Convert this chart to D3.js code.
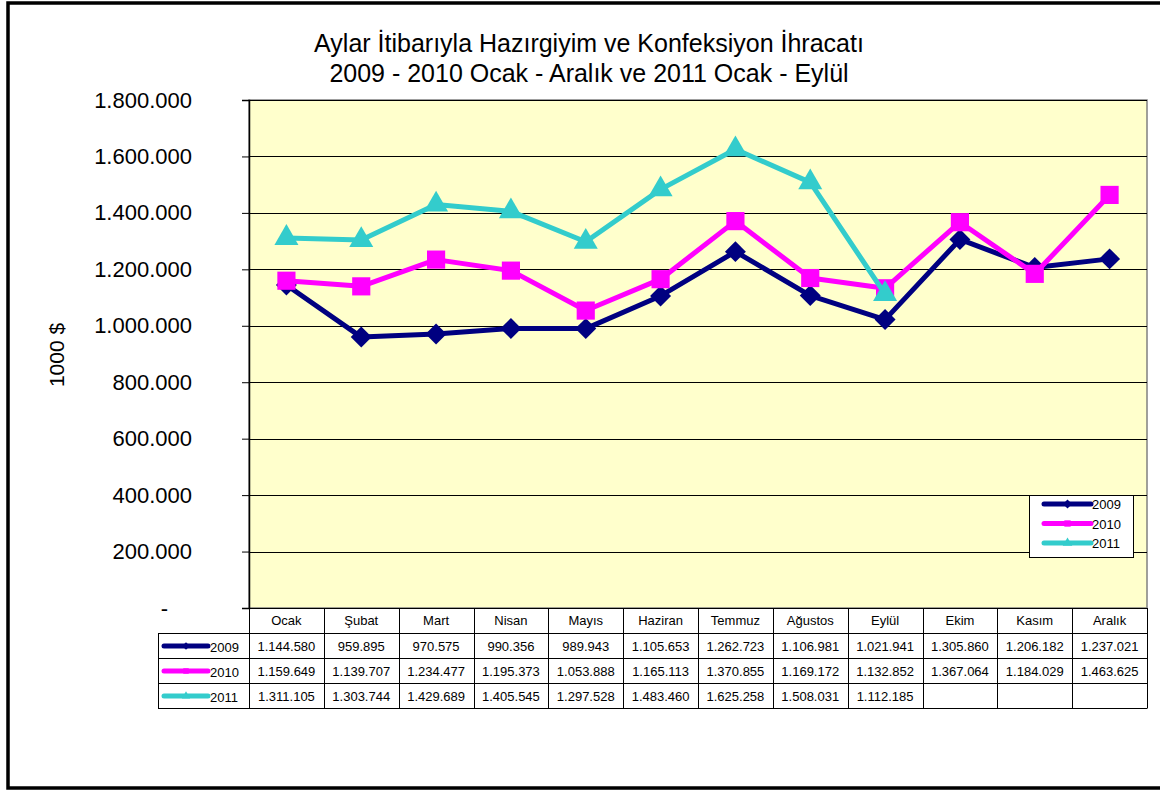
<!DOCTYPE html>
<html>
<head>
<meta charset="utf-8">
<script src="https://cdn.jsdelivr.net/npm/d3@7"></script>
<style>
  body { margin: 0; background: #fff; }
  svg { display: block; font-family: "Liberation Sans", Arial, sans-serif; }
</style>
</head>
<body>
<div class="chart"></div>
<script>
// data
var months = ["Ocak", "Şubat", "Mart", "Nisan", "Mayıs", "Haziran", "Temmuz", "Ağustos", "Eylül", "Ekim", "Kasım", "Aralık"];
var years = ["2009", "2010", "2011"];
var values2009 = [1144580, 959895, 970575, 990356, 989943, 1105653, 1262723, 1106981, 1021941, 1305860, 1206182, 1237021];
var values2010 = [1159649, 1139707, 1234477, 1195373, 1053888, 1165113, 1370855, 1169172, 1132852, 1367064, 1184029, 1463625];
var values2011 = [1311105, 1303744, 1429689, 1405545, 1297528, 1483460, 1625258, 1508031, 1112185];
var yTicks = [0, 200000, 400000, 600000, 800000, 1000000, 1200000, 1400000, 1600000, 1800000];
var titleLines = ["Aylar İtibarıyla Hazırgiyim ve Konfeksiyon İhracatı", "2009 - 2010 Ocak - Aralık ve 2011 Ocak - Eylül"];

// excel style diamond: a square turned 45 degrees
var squareDiamond = {
    draw: function(context, size){
        var r = Math.sqrt(size / 2);
        context.moveTo(0, -r);
        context.lineTo(r, 0);
        context.lineTo(0, r);
        context.lineTo(-r, 0);
        context.closePath();
    }
};

var seriesColors = ["#000080", "#ff00ff", "#33cccc"];
var seriesShapes = [squareDiamond, d3.symbolSquare, d3.symbolTriangle];
var seriesSizes = [220, 330, 250];

var W = 1160, H = 793;
var margin = {top: 100, left: 249, right: 13, bottom: 185};
var plotW = W - margin.left - margin.right,
    plotH = 608 - margin.top;

var tr = d3.formatLocale({decimal: ",", thousands: ".", grouping: [3], currency: ["", ""]});
var fmt = tr.format(",.0f");
var tickFmt = function(d){ return d === 0 ? "-" : fmt(d); };

var svg = d3.select(".chart").append("svg")
    .attr("width", W)
    .attr("height", H);

// outer frame
svg.append("rect")
    .attr("x", 8).attr("y", 3)
    .attr("width", W + 10).attr("height", 785)
    .attr("fill", "#fff")
    .attr("stroke", "#000")
    .attr("stroke-width", 3.5);

// title
svg.append("g").selectAll("text")
    .data(titleLines)
    .enter().append("text")
    .attr("x", 589)
    .attr("y", function(d, i){ return 52 + i * 30; })
    .attr("text-anchor", "middle")
    .attr("font-size", 25)
    .attr("fill", "#000")
    .text(function(d){ return d; });

var g = svg.append("g")
    .attr("transform", "translate(" + margin.left + "," + margin.top + ")");

var x = d3.scaleBand()
    .domain(months)
    .range([0, plotW]);

var y = d3.scaleLinear()
    .domain([0, 1800000])
    .range([plotH, 0]);

// plot area
g.append("rect")
    .attr("width", plotW)
    .attr("height", plotH)
    .attr("fill", "#ffffcc")
    .attr("stroke", "#808080")
    .attr("stroke-width", 1.5);

// grid lines
g.append("g").selectAll("line")
    .data(yTicks.filter(function(d){ return d > 0; }))
    .enter().append("line")
    .attr("x1", 0).attr("x2", plotW)
    .attr("y1", function(d){ return Math.round(y(d)) + 0.5; })
    .attr("y2", function(d){ return Math.round(y(d)) + 0.5; })
    .attr("stroke", "#000")
    .attr("stroke-width", 1);

// y axis
var yAxis = d3.axisLeft(y)
    .tickValues(yTicks)
    .tickSize(7)
    .tickPadding(50)
    .tickFormat(tickFmt);
var yg = g.append("g").call(yAxis);
yg.select(".domain").attr("stroke", "#000").attr("stroke-width", 1.5);
yg.selectAll(".tick line").attr("stroke", "#000");
yg.selectAll(".tick text")
    .attr("font-size", 22)
    .attr("fill", "#000")
    .attr("font-family", "'Liberation Sans', Arial, sans-serif");
yg.selectAll(".tick text").filter(function(d){ return d === 0; })
    .attr("dx", -24);

svg.append("text")
    .attr("transform", "translate(64,355) rotate(-90)")
    .attr("text-anchor", "middle")
    .attr("font-size", 21)
    .text("1000 $");

// series
var series = [values2009, values2010, values2011].map(function(vals, i){
    return {name: years[i], color: seriesColors[i], shape: seriesShapes[i], size: seriesSizes[i],
            values: vals.map(function(v, j){ return {month: months[j], value: v}; })};
});

var line = d3.line()
    .x(function(d){ return x(d.month) + x.bandwidth() / 2; })
    .y(function(d){ return y(d.value); });

series.forEach(function(s){
    var sg = g.append("g");
    sg.append("path")
        .datum(s.values)
        .attr("d", line)
        .attr("fill", "none")
        .attr("stroke", s.color)
        .attr("stroke-width", 5)
        .attr("stroke-linejoin", "round");
    sg.selectAll(".pt")
        .data(s.values)
        .enter().append("path")
        .attr("class", "pt")
        .attr("d", d3.symbol().type(s.shape).size(s.size))
        .attr("transform", function(d){
            return "translate(" + (x(d.month) + x.bandwidth() / 2) + "," + y(d.value) + ")";
        })
        .attr("fill", s.color);
});

// legend
var leg = svg.append("g").attr("transform", "translate(1029,495)");
leg.append("rect")
    .attr("x", 0.5).attr("y", 0.5)
    .attr("width", 104).attr("height", 62)
    .attr("fill", "#fff")
    .attr("stroke", "#000");
function legendKey(sel, s, x0, x1, yy, sz){
    sel.append("line")
        .attr("x1", x0).attr("x2", x1)
        .attr("y1", yy).attr("y2", yy)
        .attr("stroke", s.color)
        .attr("stroke-width", 5)
        .attr("stroke-linecap", "round");
    sel.append("path")
        .attr("d", d3.symbol().type(s.shape).size(sz)())
        .attr("transform", "translate(" + ((x0 + x1) / 2) + "," + yy + ")")
        .attr("fill", s.color);
}
series.forEach(function(s, i){
    var yy = 9 + i * 19.5;
    legendKey(leg, s, 15, 62, yy, 40);
    leg.append("text")
        .attr("x", 63).attr("y", yy + 5)
        .attr("font-size", 13)
        .text(s.name);
});

// data table under the plot
var tbl = svg.append("g").attr("transform", "translate(0,608)");
var rowH = 25, labelX = 158;
var tableRight = margin.left + plotW;

// header row (months)
tbl.selectAll(".hdr")
    .data(months)
    .enter().append("text")
    .attr("class", "hdr")
    .attr("x", function(d){ return margin.left + x(d) + x.bandwidth() / 2; })
    .attr("y", 17)
    .attr("text-anchor", "middle")
    .attr("font-size", 13)
    .text(function(d){ return d; });

series.forEach(function(s, i){
    var ry = rowH * (i + 1);
    var row = tbl.append("g").attr("transform", "translate(0," + ry + ")");
    legendKey(row, s, 164, 208, 13, 30);
    row.append("text")
        .attr("x", 210).attr("y", 19)
        .attr("font-size", 13)
        .text(s.name);
    row.selectAll(".val")
        .data(s.values)
        .enter().append("text")
        .attr("class", "val")
        .attr("x", function(d){ return margin.left + x(d.month) + x.bandwidth() / 2; })
        .attr("y", 18)
        .attr("text-anchor", "middle")
        .attr("font-size", 13)
        .text(function(d){ return fmt(d.value); });
});

// table grid
var hLines = [
    {x1: margin.left, y: 0},
    {x1: labelX, y: rowH},
    {x1: labelX, y: rowH * 2},
    {x1: labelX, y: rowH * 3},
    {x1: labelX, y: rowH * 4}
];
tbl.selectAll(".hl")
    .data(hLines)
    .enter().append("line")
    .attr("x1", function(d){ return d.x1; })
    .attr("x2", tableRight)
    .attr("y1", function(d){ return d.y + 0.5; })
    .attr("y2", function(d){ return d.y + 0.5; })
    .attr("stroke", "#000");
var vLines = [{x: labelX, y1: rowH}].concat(d3.range(13).map(function(i){
    return {x: margin.left + i * x.bandwidth(), y1: 0};
}));
tbl.selectAll(".vl")
    .data(vLines)
    .enter().append("line")
    .attr("x1", function(d){ return Math.round(d.x) + 0.5; })
    .attr("x2", function(d){ return Math.round(d.x) + 0.5; })
    .attr("y1", function(d){ return d.y1; })
    .attr("y2", rowH * 4 + 0.5)
    .attr("stroke", "#000");
</script>
</body>
</html>
